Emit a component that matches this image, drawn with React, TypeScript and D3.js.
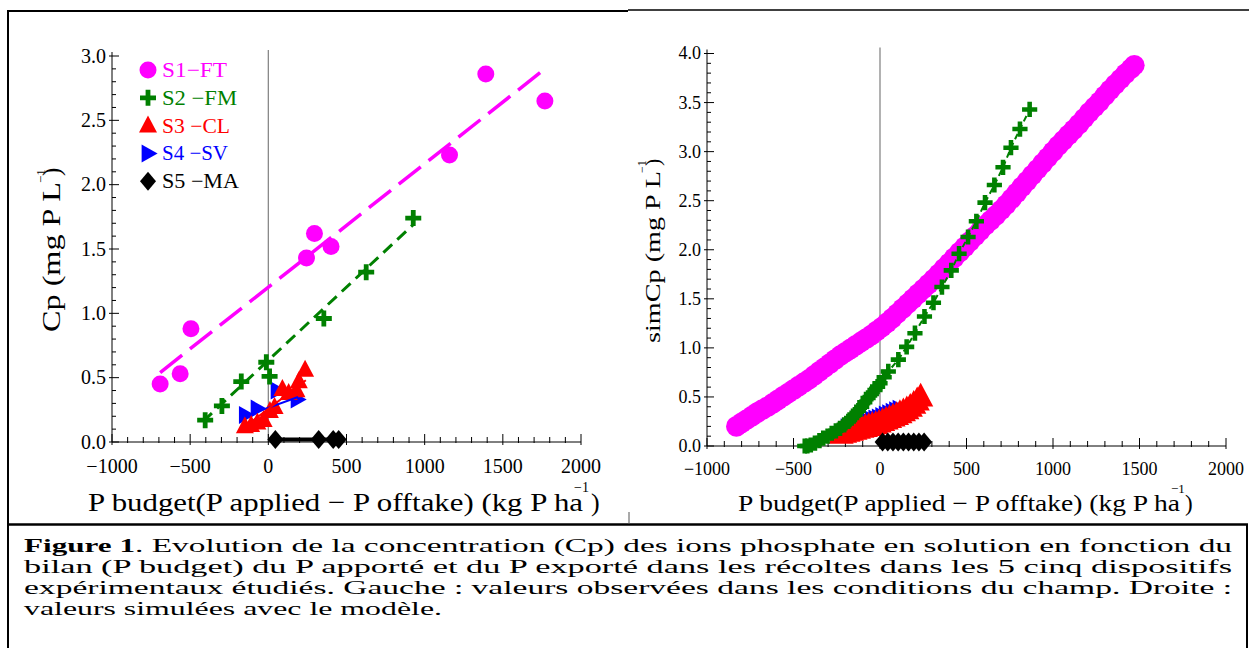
import React from "react";
import * as d3 from "d3";

const W = 1249;
const H = 648;
const FONT = "Liberation Serif, Times New Roman, Tinos, Times, Nimbus Roman, serif";

type Pt = [number, number];

// ---- left panel: observed values (P budget, Cp) ----
const obsS1: Pt[] = [[-692, 0.45], [-564, 0.53], [-495, 0.88], [244, 1.43], [295, 1.62], [401, 1.52], [1159, 2.23], [1391, 2.86], [1769, 2.65]];
const obsS2: Pt[] = [[-404, 0.17], [-297, 0.28], [-173, 0.47], [-13, 0.62], [8, 0.51], [355, 0.96], [626, 1.32], [927, 1.74]];
const obsS3: Pt[] = [[-150, 0.12], [-110, 0.13], [-70, 0.15], [-30, 0.17], [10, 0.24], [40, 0.27], [90, 0.41], [130, 0.38], [180, 0.4], [195, 0.47], [235, 0.56]];
const obsS4: Pt[] = [[-147, 0.21], [-72, 0.26], [56, 0.4], [184, 0.33]];
const obsS5: Pt[] = [[45, 0.02], [322, 0.02], [415, 0.02], [450, 0.02]];

// fitted lines drawn on the observed panel
const fitS1: Pt[] = [[-692, 0.54], [1769, 2.9]];
const fitS2: Pt[] = [[-417, 0.16], [927, 1.69]];
const fitS3: Pt[] = [[-170, 0.1], [240, 0.48]];
const fitS4: Pt[] = [[-150, 0.2], [190, 0.35]];

// ---- right panel: simulated values ----
const simS1: Pt[] = [
  [-830, 0.2], [-800, 0.235], [-770, 0.27], [-740, 0.305], [-710, 0.34], [-680, 0.37], [-650, 0.4], [-620, 0.435],
  [-590, 0.47], [-560, 0.505], [-530, 0.54], [-500, 0.575], [-470, 0.61], [-440, 0.645], [-410, 0.68], [-380, 0.72],
  [-350, 0.76], [-320, 0.8], [-290, 0.84], [-260, 0.88], [-230, 0.92], [-200, 0.955], [-170, 0.99], [-140, 1.025],
  [-110, 1.06], [-80, 1.095], [-50, 1.13], [-20, 1.17], [10, 1.21], [40, 1.255], [70, 1.3], [100, 1.35],
  [130, 1.4], [160, 1.45], [190, 1.5], [220, 1.55], [250, 1.6], [280, 1.65], [310, 1.7], [340, 1.755],
  [370, 1.81], [400, 1.865], [430, 1.92], [460, 1.975], [490, 2.03], [520, 2.085], [550, 2.14], [580, 2.195],
  [610, 2.25], [640, 2.3], [670, 2.35], [700, 2.405], [730, 2.46], [760, 2.52], [790, 2.58], [820, 2.64],
  [850, 2.7], [880, 2.76], [910, 2.82], [940, 2.88], [970, 2.94], [1000, 3.0], [1030, 3.06], [1060, 3.115],
  [1090, 3.17], [1120, 3.225], [1150, 3.28], [1180, 3.34], [1210, 3.4], [1240, 3.455], [1270, 3.51], [1300, 3.57],
  [1330, 3.63], [1360, 3.685], [1390, 3.74], [1420, 3.795], [1450, 3.845], [1470, 3.88],
];
const simS2: Pt[] = [
  [-435, 0.0], [-420, 0.0], [-400, 0.01], [-376, 0.03], [-350, 0.055], [-328, 0.08], [-303, 0.1], [-279, 0.13],
  [-255, 0.155], [-231, 0.18], [-207, 0.215], [-183, 0.25], [-164, 0.285], [-145, 0.32], [-125, 0.36], [-106, 0.4],
  [-88, 0.445], [-69, 0.49], [-50, 0.53], [-29, 0.57], [-14, 0.605], [0, 0.64], [24, 0.7], [48, 0.76],
  [106, 0.88], [154, 1.01], [202, 1.15], [257, 1.32], [309, 1.46], [358, 1.62], [412, 1.79], [457, 1.96],
  [509, 2.13], [557, 2.29], [607, 2.48], [661, 2.66], [711, 2.84], [757, 3.04], [809, 3.23], [865, 3.43],
];
const simS3: Pt[] = [
  [-225, 0.12], [-205, 0.13], [-185, 0.14], [-165, 0.15], [-145, 0.16], [-125, 0.17], [-105, 0.18], [-85, 0.19],
  [-65, 0.2], [-45, 0.21], [-25, 0.22], [-5, 0.235], [15, 0.25], [35, 0.265], [55, 0.28], [75, 0.295],
  [95, 0.31], [115, 0.33], [135, 0.35], [155, 0.37], [175, 0.395], [195, 0.425], [215, 0.46], [235, 0.5],
];
const simS4: Pt[] = [
  [-190, 0.19], [-170, 0.205], [-150, 0.215], [-130, 0.225], [-110, 0.235], [-90, 0.245], [-70, 0.255], [-50, 0.27],
  [-30, 0.28], [-10, 0.29], [10, 0.305], [30, 0.32], [50, 0.335], [70, 0.35], [90, 0.365], [110, 0.38],
];
const simS5: Pt[] = [[15, 0.04], [45, 0.04], [75, 0.04], [105, 0.04], [135, 0.04], [165, 0.04], [195, 0.04], [225, 0.04], [255, 0.04]];

const xMajor = [-1000, -500, 0, 500, 1000, 1500, 2000];
const yMajorLeft = [0, 0.5, 1, 1.5, 2, 2.5, 3];
const yMajorRight = [0, 0.5, 1, 1.5, 2, 2.5, 3, 3.5, 4];

const legendItems = [
  { label: "S1\u2212FT", kind: "circle", color: "#ff00ff", len: 65 },
  { label: "S2 \u2212FM", kind: "cross", color: "#008000", len: 75 },
  { label: "S3 \u2212CL", kind: "triUp", color: "#ff0000", len: 68 },
  { label: "S4 \u2212SV", kind: "triRight", color: "#0000ff", len: 66 },
  { label: "S5 \u2212MA", kind: "diamond", color: "#000000", len: 77 },
];

const caption = [
  "bilan (P budget) du P apporté et du P exporté dans les récoltes dans les 5 cinq dispositifs",
  "expérimentaux étudiés. Gauche : valeurs observées dans les conditions du champ. Droite :",
  "valeurs simulées avec le modèle.",
];

const fmtTick = (v: number) => (v < 0 ? "\u2212" + Math.abs(v) : String(v));

function Marker({ kind, x, y, color, s = 1 }: { kind: string; x: number; y: number; color: string; s?: number }) {
  if (kind === "circle") return <circle cx={x} cy={y} r={8.5 * s} fill={color} />;
  let d = "";
  if (kind === "cross") {
    const a = 8 * s, t = 2.4 * s;
    d = `M${-t},${-a}H${t}V${-t}H${a}V${t}H${t}V${a}H${-t}V${t}H${-a}V${-t}H${-t}Z`;
  } else if (kind === "triUp") {
    const w = 18 * s, h = 17 * s;
    d = `M0,${-h * 0.6}L${w / 2},${h * 0.4}L${-w / 2},${h * 0.4}Z`;
  } else if (kind === "triRight") {
    const w = 16 * s, h = 18 * s;
    d = `M${w * 0.6},0L${-w * 0.4},${-h / 2}L${-w * 0.4},${h / 2}Z`;
  } else {
    const w = 16 * s, h = 19 * s;
    d = `M0,${-h / 2}L${w / 2},0L0,${h / 2}L${-w / 2},0Z`;
  }
  return <path transform={`translate(${x},${y})`} d={d} fill={color} />;
}

function Axes({ x, y, yMajor, yMax, tickFont, xLabelY }: {
  x: d3.ScaleLinear<number, number>; y: d3.ScaleLinear<number, number>;
  yMajor: number[]; yMax: number; tickFont: number; xLabelY: number;
}) {
  const x0 = x(-1000);
  const y0 = y(0);
  const xMinor = d3.range(-1000, 2001, 100);
  const yMinor = d3.range(0, Math.round(yMax * 10) + 1).map((i) => i / 10);
  return (
    <g>
      <line x1={x(0)} x2={x(0)} y1={y(yMax) - 6} y2={y0} stroke="#888" strokeWidth={1.3} />
      <line x1={x0} x2={x(2000)} y1={y0} y2={y0} stroke="#000" strokeWidth={1} />
      <line x1={x0} x2={x0} y1={y(yMax) - 4} y2={y0} stroke="#000" strokeWidth={1} />
      {xMinor.map((v) => {
        const major = v % 500 === 0;
        return <line key={"xm" + v} x1={x(v)} x2={x(v)} y1={y0 + (major ? 3 : 1)} y2={y0 - (major ? 8 : 5)} stroke="#000" strokeWidth={1} />;
      })}
      {yMinor.map((v) => {
        const major = Math.abs(v * 2 - Math.round(v * 2)) < 1e-6;
        return <line key={"ym" + v} x1={x0 - (major ? 3 : 0)} x2={x0 + (major ? 7 : 4)} y1={y(v)} y2={y(v)} stroke="#000" strokeWidth={1} />;
      })}
      {xMajor.map((v) => (
        <text key={"xl" + v} x={x(v)} y={xLabelY} textAnchor="middle" fontSize={tickFont}>{fmtTick(v)}</text>
      ))}
      {yMajor.map((v) => (
        <text key={"yl" + v} x={x0 - 6} y={y(v) + tickFont * 0.33} textAnchor="end" fontSize={tickFont}>{v.toFixed(1)}</text>
      ))}
    </g>
  );
}

export default function App() {
  const xL = d3.scaleLinear().domain([-1000, 2000]).range([112, 581]);
  const yL = d3.scaleLinear().domain([0, 3]).range([442, 56]);
  const xR = d3.scaleLinear().domain([-1000, 2000]).range([707, 1226]);
  const yR = d3.scaleLinear().domain([0, 4]).range([446, 53.5]);

  const lineL = d3.line<Pt>().x((d) => xL(d[0])).y((d) => yL(d[1]));
  const lineR = d3.line<Pt>().x((d) => xR(d[0])).y((d) => yR(d[1]));

  const dots = (pts: Pt[], kind: string, color: string, xs: any, ys: any, s = 1) =>
    pts.map((p, i) => <Marker key={kind + i} kind={kind} x={xs(p[0])} y={ys(p[1])} color={color} s={s} />);

  return (
    <svg width={W} height={H} style={{ position: "absolute", left: 0, top: 0, background: "#fff", fontFamily: FONT }}>
      <rect x={0} y={0} width={W} height={H} fill="#fff" />

      {/* frames */}
      <line x1={8} x2={628} y1={11} y2={11} stroke="#000" strokeWidth={2} />
      <line x1={628} x2={W} y1={10} y2={10} stroke="#000" strokeWidth={1.5} />
      <line x1={8} x2={8} y1={10} y2={H} stroke="#000" strokeWidth={2} />
      <line x1={8} x2={1248} y1={524.5} y2={524.5} stroke="#000" strokeWidth={2.5} />
      <line x1={1247} x2={1247} y1={524} y2={H} stroke="#000" strokeWidth={2} />
      <line x1={629} x2={629} y1={512} y2={524} stroke="#555" strokeWidth={1} />

      {/* left panel */}
      <Axes x={xL} y={yL} yMajor={yMajorLeft} yMax={3} tickFont={20} xLabelY={473} />
      <path d={lineL(fitS1) ?? ""} stroke="#ff00ff" strokeWidth={3.5} strokeDasharray="28 10" fill="none" />
      <path d={lineL(fitS2) ?? ""} stroke="#008000" strokeWidth={3} strokeDasharray="12 7" fill="none" />
      {dots(obsS1, "circle", "#ff00ff", xL, yL)}
      {dots(obsS4, "triRight", "#0000ff", xL, yL)}
      {dots(obsS3, "triUp", "#ff0000", xL, yL)}
      <path d={lineL(fitS4) ?? ""} stroke="#0000ff" strokeWidth={2} fill="none" />
      <path d={lineL(fitS3) ?? ""} stroke="#ff0000" strokeWidth={2} fill="none" />
      {dots(obsS2, "cross", "#008000", xL, yL)}
      <path d={lineL(obsS5) ?? ""} stroke="#000" strokeWidth={4} fill="none" />
      {dots(obsS5, "diamond", "#000", xL, yL)}

      {legendItems.map((it, i) => {
        const cy = 70 + i * 27.8;
        return (
          <g key={it.label}>
            <Marker kind={it.kind} x={148} y={cy} color={it.color} />
            <text x={162} y={cy + 7} fontSize={21} fill={it.color} textLength={it.len} lengthAdjust="spacingAndGlyphs">{it.label}</text>
          </g>
        );
      })}

      <g transform="translate(60,332) rotate(-90)">
        <text x={0} y={0} fontSize={25} textLength={150} lengthAdjust="spacingAndGlyphs">Cp (mg P L</text>
        <text x={149} y={-15} fontSize={13}>{"\u22121"}</text>
        <text x={156} y={0} fontSize={25}>)</text>
      </g>
      <g>
        <text x={88} y={511} fontSize={26} textLength={495} lengthAdjust="spacingAndGlyphs">{"P budget(P applied \u2212 P offtake) (kg P ha"}</text>
        <text x={574} y={492} fontSize={14}>{"\u22121"}</text>
        <text x={591} y={511} fontSize={26}>)</text>
      </g>

      {/* right panel */}
      <Axes x={xR} y={yR} yMajor={yMajorRight} yMax={4} tickFont={18} xLabelY={475} />
      {dots(simS1, "circle", "#ff00ff", xR, yR, 1.22)}
      {dots(simS4, "triRight", "#0000ff", xR, yR)}
      {dots(simS3, "triUp", "#ff0000", xR, yR, 1.4)}
      <path d={lineR(simS2) ?? ""} stroke="#008000" strokeWidth={2} strokeDasharray="6 4" fill="none" />
      {dots(simS2, "cross", "#008000", xR, yR, 0.95)}
      {dots(simS5, "diamond", "#000", xR, yR)}

      <g transform="translate(660,343) rotate(-90)">
        <text x={0} y={0} fontSize={22} textLength={172} lengthAdjust="spacingAndGlyphs">simCp (mg P L</text>
        <text x={170} y={-14} fontSize={12}>{"\u22121"}</text>
        <text x={177} y={0} fontSize={22}>)</text>
      </g>
      <g>
        <text x={738} y={511} fontSize={23} textLength={442} lengthAdjust="spacingAndGlyphs">{"P budget(P applied \u2212 P offtake) (kg P ha"}</text>
        <text x={1171} y={493} fontSize={13}>{"\u22121"}</text>
        <text x={1185} y={511} fontSize={23}>)</text>
      </g>

      {/* caption */}
      <g fontSize={19}>
        <text x={24} y={552} fontWeight="bold" textLength={111} lengthAdjust="spacingAndGlyphs">Figure 1</text>
        <text x={135} y={552} textLength={1097} lengthAdjust="spacingAndGlyphs">. Evolution de la concentration (Cp) des ions phosphate en solution en fonction du</text>
        {caption.map((t, i) => (
          <text key={i} x={24} y={573 + i * 21} textLength={i === 2 ? 418 : 1208} lengthAdjust="spacingAndGlyphs">{t}</text>
        ))}
      </g>
    </svg>
  );
}
